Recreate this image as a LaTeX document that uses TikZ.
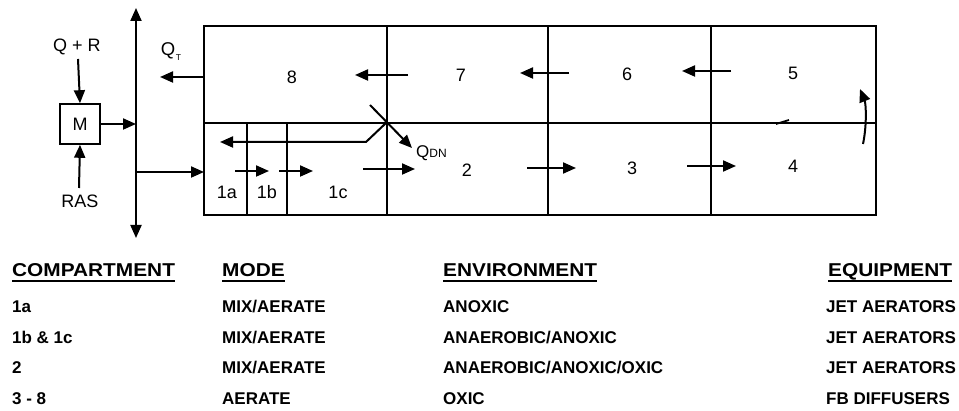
\documentclass[tikz,border=0pt]{standalone}
\usepackage{fontspec}
\usepackage{graphicx}
\setmainfont{Liberation Sans}
\usetikzlibrary{arrows.meta}
\newcommand{\hdrtext}[1]{\scalebox{1.12}[1]{#1}}
\begin{document}
\begin{tikzpicture}[x=1pt,y=-1pt,
  wall/.style={line width=2pt},
  tip/.style={-{Triangle[length=13pt,width=11pt]}},
  flow/.style={line width=2pt,tip},
  lbl/.style={font=\fontsize{18}{20}\selectfont, inner sep=0pt},
  hdr/.style={font=\fontsize{18.6}{20}\selectfont\bfseries, anchor=base west, inner sep=0pt},
  row/.style={font=\fontsize{17}{19}\selectfont\bfseries, anchor=base west, inner sep=0pt},
  uline/.style={line width=1.8pt}]
\useasboundingbox (0,0) rectangle (959,411);

% tank outline and walls
\draw[wall] (204,26) rectangle (876,215);
\draw[wall] (204,123) -- (876,123);
\draw[wall] (387,26) -- (387,215);
\draw[wall] (548,26) -- (548,215);
\draw[wall] (711,26) -- (711,215);
\draw[wall] (247,123) -- (247,215);
\draw[wall] (287,123) -- (287,215);

% distribution bus
\coordinate (bustop) at (136,8);
\coordinate (busbot) at (136,238);
\draw[line width=2pt,{Triangle[length=13pt,width=11pt]}-{Triangle[length=13pt,width=11pt]}] (bustop) -- (busbot);

% mixer
\node[draw, line width=1.6pt, minimum size=40pt, inner sep=0pt, font=\fontsize{18}{20}\selectfont] (M) at (80,124) {M};
\node[lbl] (QR) at (77,47) {Q + R};
\node[lbl] (RAS) at (80,201) {RAS};
\coordinate (QRend) at (78,59);
\coordinate (RASend) at (79,188);
\coordinate (busM) at (136,124);
\draw[flow] (QRend) -- (M.north);
\draw[flow] (RASend) -- (M.south);
\draw[flow] (M.east) -- (busM);
\coordinate (busfeed) at (136,172);
\coordinate (feedin) at (204,172);
\draw[flow] (busfeed) -- (feedin);

% compartment labels
\node[lbl] (c8) at (292,77) {8};
\node[lbl] (c7) at (461,75) {7};
\node[lbl] (c6) at (627,74) {6};
\node[lbl] (c5) at (793,73) {5};
\node[lbl] (c1a) at (227,192) {1a};
\node[lbl] (c1b) at (267,192) {1b};
\node[lbl] (c1c) at (338,192) {1c};
\node[lbl] (c2) at (467,170) {2};
\node[lbl] (c3) at (632,168) {3};
\node[lbl] (c4) at (793,166) {4};

% upper row flows (right to left)
\coordinate (qts) at (204,77); \coordinate (qte) at (160,77);
\draw[flow] (qts) -- (qte);
\node[font=\fontsize{18.5}{20}\selectfont, inner sep=0pt] (QT) at (168,51) {Q};
\node[font=\fontsize{8.5}{9}\selectfont, inner sep=0pt] (QTsub) at (178.5,58) {T};
\coordinate (a87s) at (408,75); \coordinate (a87e) at (355,75);
\draw[flow] (a87s) -- (a87e);
\coordinate (a76s) at (569,73); \coordinate (a76e) at (520,73);
\draw[flow] (a76s) -- (a76e);
\coordinate (a65s) at (731,71); \coordinate (a65e) at (682,71);
\draw[flow] (a65s) -- (a65e);

% lower row flows (left to right)
\coordinate (b1s) at (235,171); \coordinate (b1e) at (269,171);
\draw[flow] (b1s) -- (b1e);
\coordinate (b2s) at (279,171); \coordinate (b2e) at (313,171);
\draw[flow] (b2s) -- (b2e);
\coordinate (b3s) at (363,169); \coordinate (b3e) at (415,169);
\draw[flow] (b3s) -- (b3e);
\coordinate (b4s) at (527,168); \coordinate (b4e) at (576,168);
\draw[flow] (b4s) -- (b4e);
\coordinate (b5s) at (687,166); \coordinate (b5e) at (736,166);
\draw[flow] (b5s) -- (b5e);

% turn from 4 to 5
\coordinate (t45s) at (863,144); \coordinate (t45e) at (860,89);
\draw[flow] (t45s) .. controls (867,125) and (866,104) .. (t45e);
\coordinate (m1) at (776,124); \coordinate (m2) at (789,120);
\draw[line width=1.8pt] (m1) -- (m2);

% nitrate recycle
\coordinate (xs) at (370,105); \coordinate (xe) at (412,148);
\draw[flow] (xs) -- (xe);
\coordinate (rs) at (386,123); \coordinate (rk) at (366,142); \coordinate (re) at (220,142);
\draw[flow] (rs) -- (rk) -- (re);
\node[anchor=west, inner sep=0pt, font=\fontsize{17}{18}\selectfont] (QDN) at (416,153) {Q\fontsize{12}{13}\selectfont DN};

% table
\node[hdr] (h1) at (12,276.7) {\hdrtext{COMPARTMENT}};
\node[hdr] (h2) at (222,276.7) {\hdrtext{MODE}};
\node[hdr] (h3) at (443,276.7) {\hdrtext{ENVIRONMENT}};
\node[hdr] (h4) at (828,276.7) {\hdrtext{EQUIPMENT}};
\foreach \h in {h1,h2,h3,h4}{
  \draw[uline] ([yshift=-4pt]\h.base west) -- ([yshift=-4pt]\h.base east);
}
\node[row] (r1a) at (12,312.3) {1a};
\node[row] (r1b) at (222,312.3) {MIX/AERATE};
\node[row] (r1c) at (443,312.3) {ANOXIC};
\node[row] (r1d) at (826,312.3) {JET AERATORS};
\node[row] (r2a) at (12,343.3) {1b \& 1c};
\node[row] (r2b) at (222,343.3) {MIX/AERATE};
\node[row] (r2c) at (443,343.3) {ANAEROBIC/ANOXIC};
\node[row] (r2d) at (826,343.3) {JET AERATORS};
\node[row] (r3a) at (12,374) {2};
\node[row] (r3b) at (222,374) {MIX/AERATE};
\node[row] (r3c) at (443,374) {ANAEROBIC/ANOXIC/OXIC};
\node[row] (r3d) at (826,374) {JET AERATORS};
\node[row] (r4a) at (12,405) {3 - 8};
\node[row] (r4b) at (222,405) {AERATE};
\node[row] (r4c) at (443,405) {OXIC};
\node[row] (r4d) at (826,405) {FB DIFFUSERS};
\end{tikzpicture}
\end{document}
